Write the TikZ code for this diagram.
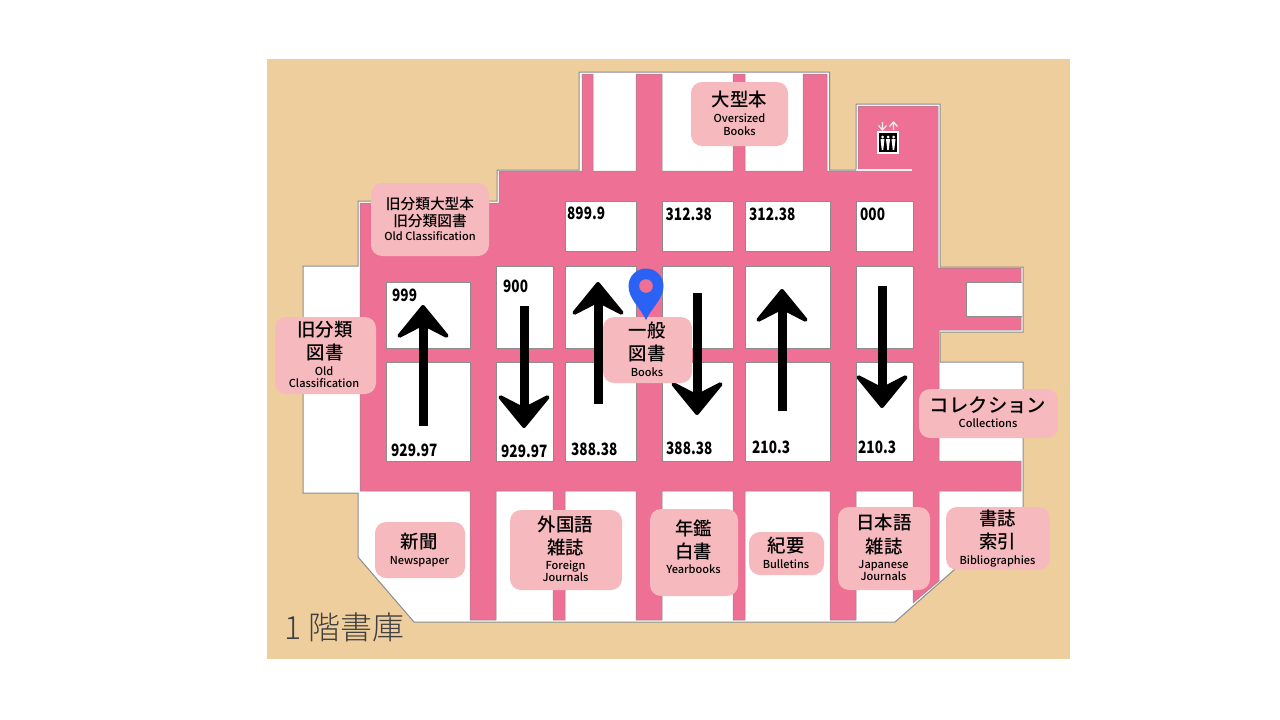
\documentclass[tikz,border=0pt]{standalone}
\usepackage{fontspec}
\usetikzlibrary{arrows.meta}
\setmainfont{Noto Sans CJK JP Medium}
\newfontfamily\numfont[FakeStretch=0.8]{Noto Sans CJK JP}
\newfontfamily\lightfont{Noto Sans CJK JP Light}
\definecolor{tanbg}{HTML}{EECE9C}
\definecolor{pinkfloor}{HTML}{EE7094}
\definecolor{boxpink}{HTML}{F5B9BE}
\definecolor{edgegray}{HTML}{8C8C8C}
\definecolor{pinblue}{HTML}{2962F5}
\tikzset{
  x=1pt,y=-1pt,
  shelfbox/.style={fill=white,draw=edgegray,line width=.8pt},
  infobox/.style={fill=boxpink,rounded corners=11pt,draw=none,inner sep=0pt},
  jp/.style={inner sep=0pt,font=\fontsize{18.4}{18}\selectfont,text=black},
  jpsmall/.style={inner sep=0pt,font=\fontsize{14.7}{15}\selectfont,text=black},
  en/.style={inner sep=0pt,yshift=-2pt,text height=8pt,text depth=2.4pt,font=\fontsize{11}{11}\selectfont,text=black},
  num/.style={inner sep=0pt,anchor=west,font=\numfont\bfseries\fontsize{17}{17}\selectfont,text=black},
  route/.style={line width=9pt,draw=black,-{Stealth[length=38pt,width=62pt,inset=16pt,line width=4pt,round]}},
}
\newcommand{\shelf}[4]{\draw[shelfbox] (#1,#2) rectangle (#3,#4);}
\newcommand{\ibox}[5]{\node[infobox,minimum width=#4*1pt-#2*1pt,minimum height=#5*1pt-#3*1pt] (#1) at ({(#2+#4)/2},{(#3+#5)/2}) {};}
\begin{document}
\begin{tikzpicture}
\useasboundingbox (0,0) rectangle (1280,720);
\fill[white] (0,0) rectangle (1280,720);
\fill[tanbg] (267,59) rectangle (1070,659);
% building
\draw[fill=white,draw=edgegray,line width=1pt] (579,72)--(829.5,72)--(829.5,170)--(856,170)--(856,104)--(940,104)--(940,267)--(1023,267)--(1023,332)--(940,332)--(940,362)--(1023,362)--(1023,507)--(954,570)--(895,622)--(414,622)--(358,557)--(358,493)--(303,493)--(303,266)--(358,266)--(358,201)--(497,201)--(497,170)--(579,170)--cycle;
% floor
\draw[fill=pinkfloor,draw=edgegray,line width=.5pt]
 (582,74)--(593,74)--(593,171)--(636,171)--(636,74)--(662,74)--(662,171)--(733,171)--(733,74)--(745,74)--(745,171)--(803,171)--(803,74)--(827,74)--(827,171)--(858,171)--(858,106)--(938,106)--(938,268)--(1021,268)--(1021,330)--(939,330)--(939,461)--(1021,461)--(1021,491)--(939,491)--(939,581)--(913,603)--(913,491)--(856,491)--(856,620)--(830,620)--(830,491)--(745,491)--(745,620)--(733,620)--(733,491)--(662,491)--(662,620)--(636,620)--(636,491)--(565,491)--(565,620)--(553,620)--(553,491)--(496,491)--(496,620)--(470,620)--(470,491)--(360,491)--(360,203)--(499,203)--(499,171)--(582,171)--cycle;
\draw[white!90!gray,line width=1.2pt] (856,170)--(912,170);
\fill[white] (966,282) rectangle (1022,316);
\draw[edgegray,line width=.8pt] (1022,282)--(966,282)--(966,316)--(1022,316);
% shelves
\shelf{565}{201}{636}{251}\shelf{662}{201}{733}{251}\shelf{745}{201}{830}{251}\shelf{856}{201}{913}{251}
\shelf{386}{282}{470}{348}\shelf{496}{266}{553}{348}\shelf{565}{266}{636}{348}\shelf{662}{266}{733}{348}\shelf{745}{266}{830}{348}\shelf{856}{266}{913}{348}
\shelf{386}{362}{470}{461}\shelf{496}{362}{553}{461}\shelf{565}{362}{636}{461}\shelf{662}{362}{733}{461}\shelf{745}{362}{830}{461}\shelf{856}{362}{913}{461}
% route arrows
\coordinate (a1s) at (423,426); \coordinate (a1e) at (423,305);
\coordinate (a2s) at (524,306); \coordinate (a2e) at (524,428);
\coordinate (a3s) at (598,404); \coordinate (a3e) at (598,282);
\coordinate (a4s) at (697,293); \coordinate (a4e) at (697,415);
\coordinate (a5s) at (782,411); \coordinate (a5e) at (782,289);
\coordinate (a6s) at (882,286); \coordinate (a6e) at (882,408);
\draw[route] (a1s)--(a1e);
\draw[route] (a2s)--(a2e);
\draw[route] (a3s)--(a3e);
\draw[route] (a4s)--(a4e);
\draw[route] (a5s)--(a5e);
\draw[route] (a6s)--(a6e);
% numbers
\node[num] (n1) at (392,295) {999};
\node[num] (n2) at (503,286) {900};
\node[num] (n3) at (567,213) {899.9};
\node[num] (n4) at (665.5,214) {312.38};
\node[num] (n5) at (749,214) {312.38};
\node[num] (n6) at (860,214) {000};
\node[num] (n7) at (391,450) {929.97};
\node[num] (n8) at (501,451) {929.97};
\node[num] (n9) at (571,449) {388.38};
\node[num] (n10) at (666,448) {388.38};
\node[num] (n11) at (752,447) {210.3};
\node[num] (n12) at (858,447) {210.3};
% info boxes
\ibox{b1}{371}{183}{489}{256}
\node[jpsmall] (t1a) at (430,204) {旧分類大型本};
\node[jpsmall] (t1b) at (430,221) {旧分類図書};
\node[en] (t1c) at (430,236) {Old Classification};
\ibox{b2}{275}{317}{376}{394}
\node[jp] (t2a) at (325,330) {旧分類};
\node[jp] (t2b) at (325,353) {図書};
\node[en] (t2c) at (324,371) {Old};
\node[en] (t2d) at (324,383) {Classification};
\ibox{b3}{603}{317}{692}{383}
\node[jp] (t3a) at (647,331) {一般};
\node[jp] (t3b) at (647,354) {図書};
\node[en] (t3c) at (647,372) {Books};
\ibox{b4}{691}{82}{788}{146}
\node[jp] (t4a) at (739.5,100) {大型本};
\node[en] (t4b) at (739.5,118) {Oversized};
\node[en] (t4c) at (739.5,131) {Books};
\ibox{b5}{375}{522}{465}{578}
\node[jp] (t5a) at (419,542) {新聞};
\node[en] (t5b) at (419.5,560) {Newspaper};
\ibox{b6}{510}{510}{622}{590}
\node[jp] (t6a) at (565.5,524) {外国語};
\node[jp] (t6b) at (565.5,547) {雑誌};
\node[en] (t6c) at (565.5,565) {Foreign};
\node[en] (t6d) at (565.5,577) {Journals};
\ibox{b7}{650}{509}{738}{596}
\node[jp] (t7a) at (693.5,528) {年鑑};
\node[jp] (t7b) at (693.5,551) {白書};
\node[en] (t7c) at (693.5,569) {Yearbooks};
\ibox{b8}{749}{532}{824}{575}
\node[jp] (t8a) at (786,546) {紀要};
\node[en] (t8b) at (786,564) {Bulletins};
\ibox{b9}{838}{507}{930}{590}
\node[jp] (t9a) at (884,523) {日本語};
\node[jp] (t9b) at (884,546) {雑誌};
\node[en] (t9c) at (883.5,564) {Japanese};
\node[en] (t9d) at (883.5,576) {Journals};
\ibox{b10}{946}{507}{1050}{570}
\node[jp] (t10a) at (997.5,519) {書誌};
\node[jp] (t10b) at (997.5,542) {索引};
\node[en] (t10c) at (997.5,560) {Bibliographies};
\ibox{b11}{919}{389}{1058}{438}
\node[jp,font=\fontsize{19.4}{19}\selectfont] (t11a) at (988,405) {コレクション};
\node[en] (t11b) at (988,423) {Collections};
% pin
\fill[pinblue] (646,320) .. controls (640,307) and (628.5,299) .. (628.5,286) arc[start angle=180,end angle=360,radius=17.5] .. controls (663.5,299) and (652,307) .. (646,320) -- cycle;
\fill[pinkfloor] (646,286) circle[radius=6.8];
% elevator icon
\fill[white] (877,131) rectangle (899,154);
\fill[black] (879,133) rectangle (897,152);
\foreach \px in {882.5,888,893.5}{
  \fill[white] (\px,137) circle[radius=1.5];
  \fill[white] (\px-2,139)--(\px+2,139)--(\px+1.2,146)--(\px+.7,150)--(\px-.7,150)--(\px-1.2,146)--cycle;
}
\draw[white!85!gray,line width=1.3pt] (882.5,122)--(882.5,130) (878.5,125.5)--(882.5,130)--(886.5,125.5);
\draw[white!85!gray,line width=1.3pt] (893.5,130)--(893.5,122) (889.5,126.5)--(893.5,122)--(897.5,126.5);
% title
\node[inner sep=0pt,anchor=west,text=black!75,font=\lightfont\fontsize{32}{32}\selectfont] (title) at (284,627) {1 階書庫};
\end{tikzpicture}
\end{document}
